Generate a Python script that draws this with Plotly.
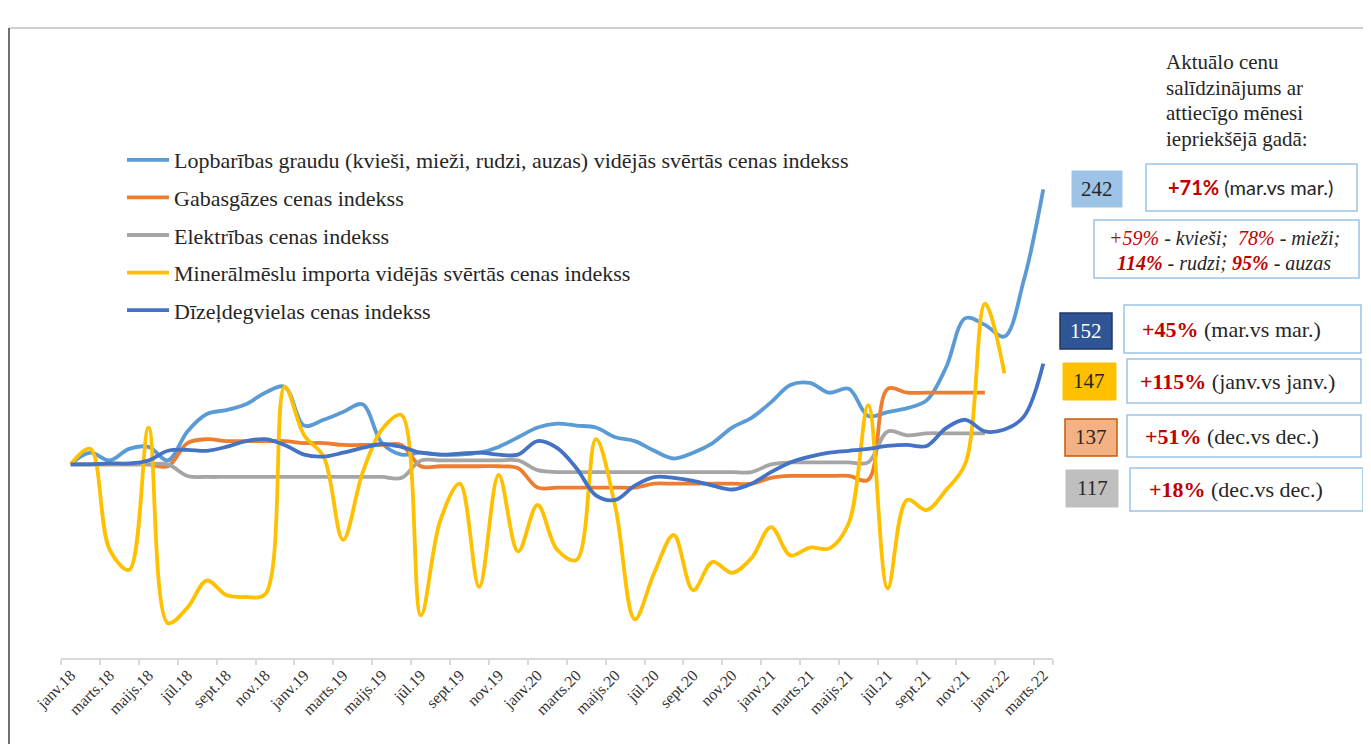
import plotly.graph_objects as go

months = ["janv.18", "febr.18", "marts.18", "apr.18", "maijs.18", "jūn.18", "jūl.18", "aug.18", "sept.18", "okt.18", "nov.18", "dec.18",
          "janv.19", "febr.19", "marts.19", "apr.19", "maijs.19", "jūn.19", "jūl.19", "aug.19", "sept.19", "okt.19", "nov.19", "dec.19",
          "janv.20", "febr.20", "marts.20", "apr.20", "maijs.20", "jūn.20", "jūl.20", "aug.20", "sept.20", "okt.20", "nov.20", "dec.20",
          "janv.21", "febr.21", "marts.21", "apr.21", "maijs.21", "jūn.21", "jūl.21", "aug.21", "sept.21", "okt.21", "nov.21", "dec.21",
          "janv.22", "febr.22", "marts.22"]
tick_labels = months[::2]

grain = [100, 106, 102, 108, 109, 102, 117, 126, 128, 131, 137, 140,
         120, 123, 127, 131, 111, 105, 106, 105, 105, 106, 109, 114,
         119, 121, 120, 119, 114, 112, 107, 103, 106, 111, 119, 124,
         132, 141, 142, 137, 139, 125, 127, 129, 133, 150, 175.5, 172,
         166, 195, 242]
gas = [100, 100, 100, 100, 100, 99, 111, 113, 112, 112, 112, 112,
       111, 111, 110, 110, 110, 110, 99, 99, 99, 99, 99, 98,
       88, 88, 88, 88, 88, 88, 90, 90, 90, 90, 90, 90,
       93, 94, 94, 94, 94, 92, 139, 137, 137, 137, 137, 137]
electricity = [100, 100, 100, 100, 100, 100, 94, 93.5, 93.5, 93.5, 93.5, 93.5,
               93.5, 93.5, 93.5, 93.5, 93.5, 93, 102, 102, 102, 102, 102, 102,
               97, 96, 96, 96, 96, 96, 96, 96, 96, 96, 96, 96,
               100, 101, 101, 101, 101, 101, 117, 115, 116, 116, 116, 116]
fertilizer = [100, 108, 56, 45.5, 119, 18, 26, 40, 32.5, 31.5, 33, 140,
              115, 104, 61, 95.5, 118, 125.5, 22, 71, 90, 36.7, 94.5, 55,
              79, 56, 50.6, 113, 78, 20, 44, 63.5, 35, 49.6, 44, 51.6,
              67.6, 53, 57, 56.6, 69.7, 130.6, 36, 81.6, 76.4, 86.7, 100.6, 183,
              147]
diesel = [100, 100, 100.5, 100.5, 102, 107, 107.5, 107, 109, 112, 113, 110,
          105, 104, 106, 108.5, 110.5, 109, 106, 105, 105.5, 106, 105, 105,
          112, 108.5, 98, 84, 81.6, 89, 93.4, 93, 91.5, 89, 87, 90,
          96, 101, 104, 106, 107, 108, 109.5, 110, 109.5, 118.7, 123, 117,
          118, 124.6, 152]

series = [
    ("Lopbarības graudu (kvieši, mieži, rudzi, auzas) vidējās svērtās cenas indekss", grain, "#5B9BD5"),
    ("Gabasgāzes cenas indekss", gas, "#ED7D31"),
    ("Elektrības cenas indekss", electricity, "#A5A5A5"),
    ("Minerālmēslu importa vidējās svērtās cenas indekss", fertilizer, "#FFC000"),
    ("Dīzeļdegvielas cenas indekss", diesel, "#4472C4"),
]

OFF = 8  # page body margin
W, H = 1371 - OFF, 744 - OFF
L, R, T, B = 61 - OFF, 318, 77 - OFF, 86
PW, PH = W - L - R, H - T - B

def px(x):
    return (x - OFF - L) / PW

def py(y):
    return (H - B - (y - OFF)) / PH

fig = go.Figure()
for name, vals, color in series:
    fig.add_trace(go.Scatter(
        x=months[:len(vals)], y=vals, mode="lines", name=name, legendgroup=name,
        line=dict(color=color, width=3.8, shape="spline", smoothing=1.0),
        hoverinfo="skip"))

SERIF = "Liberation Serif"
RED = "#C00000"
DARK = "#262626"

shapes = []
annotations = []

# frame of the original document
shapes.append(dict(type="line", xref="paper", yref="paper", x0=px(9), x1=px(1371), y0=py(28), y1=py(28),
                   line=dict(color="#D0D0D0", width=2)))
shapes.append(dict(type="line", xref="paper", yref="paper", x0=px(9), x1=px(9), y0=py(28), y1=py(744),
                   line=dict(color="#404040", width=1.5)))

def box(x0, y0, x1, y1, fill, border, bw=1.5):
    shapes.append(dict(type="rect", xref="paper", yref="paper", x0=px(x0), x1=px(x1), y0=py(y1), y1=py(y0),
                       fillcolor=fill, line=dict(color=border, width=bw), layer="above"))

def text(x, y, t, size=22, family=SERIF, color=DARK, xanchor="center"):
    annotations.append(dict(xref="paper", yref="paper", x=px(x), y=py(y), text=t, showarrow=False,
                            xanchor=xanchor, yanchor="middle", align="center",
                            font=dict(family=family, size=size, color=color)))

# heading of the comparison panel
heading = ["Aktuālo cenu", "salīdzinājums ar", "attiecīgo mēnesi", "iepriekšējā gadā:"]
for i, line in enumerate(heading):
    text(1164, 62 + 25.7 * i, line, size=21, xanchor="left")

BLUEBORDER = "#9DC3E6"
values = ["242", "152", "147", "137", "117"]
changes = ["+71%", "+45%", "+115%", "+51%", "+18%"]
periods = ["(mar.vs mar.)", "(mar.vs mar.)", "(janv.vs janv.)", "(dec.vs dec.)", "(dec.vs dec.)"]

# 242 grain
box(1072, 171, 1122, 207, "#9DC3E6", "#9DC3E6", 1)
text(1097, 189, values[0], size=21)
box(1146, 164, 1357, 211, "white", BLUEBORDER)
text(1250, 187, f"<b><span style='color:{RED}'>{changes[0]}</span></b> {periods[0]}",
     size=20, family="Lato")
box(1094, 220, 1359, 278, "white", BLUEBORDER)
text(1224, 238, f"<i><span style='color:{RED}'>+59%</span> - kvieši;  <span style='color:{RED}'>78%</span> - mieži;</i>",
     size=20)
text(1224, 263, f"<i><b><span style='color:{RED}'>114%</span></b> - rudzi; <b><span style='color:{RED}'>95%</span></b> - auzas</i>",
     size=20)

# 152 diesel
box(1060, 313, 1112, 349, "#2F5597", "#203864", 1.5)
text(1086, 331, values[1], color="white", size=21)
box(1124, 305, 1361, 353, "white", BLUEBORDER)
text(1231, 329, f"<b><span style='color:{RED}'>{changes[1]}</span></b> {periods[1]}")

# 147 fertilizer
box(1063, 363, 1116, 400, "#FFC000", "#FFC000", 1)
text(1089, 381, values[2], size=21)
box(1127, 359, 1361, 403, "white", BLUEBORDER)
text(1237, 381, f"<b><span style='color:{RED}'>{changes[2]}</span></b> {periods[2]}")

# 137 gas
box(1065, 419, 1117, 456, "#F4B183", "#C55A11", 1.5)
text(1091, 437, values[3], size=21)
box(1127, 415, 1361, 457, "white", BLUEBORDER)
text(1232, 436, f"<b><span style='color:{RED}'>{changes[3]}</span></b> {periods[3]}")

# 117 electricity
box(1066, 470, 1118, 507, "#BFBFBF", "#BFBFBF", 1)
text(1092, 488, values[4], size=21)
box(1130, 468, 1363, 511, "white", BLUEBORDER)
text(1236, 489, f"<b><span style='color:{RED}'>{changes[4]}</span></b> {periods[4]}")

fig.update_layout(
    width=W, height=H,
    margin=dict(l=L, r=R, t=T, b=B),
    paper_bgcolor="white", plot_bgcolor="white",
    showlegend=True,
    legend=dict(x=px(122), y=py(139), xanchor="left", yanchor="top",
                font=dict(family=SERIF, size=22, color=DARK),
                bgcolor="rgba(0,0,0,0)", traceorder="grouped", tracegroupgap=6,
                itemwidth=42),
    xaxis=dict(type="category", range=[-0.5, 50.5], tickmode="array",
               tickvals=tick_labels, ticktext=tick_labels, tickson="boundaries",
               ticks="outside", ticklen=5, tickcolor="#D9D9D9", tickwidth=1.5,
               showline=True, linecolor="#D9D9D9", linewidth=1.5, showgrid=False,
               tickangle=-45, tickfont=dict(family=SERIF, size=16, color="#333333")),
    yaxis=dict(range=[0, 300], visible=False, showgrid=False, zeroline=False),
    shapes=shapes, annotations=annotations,
)

fig.write_html("out.html")
